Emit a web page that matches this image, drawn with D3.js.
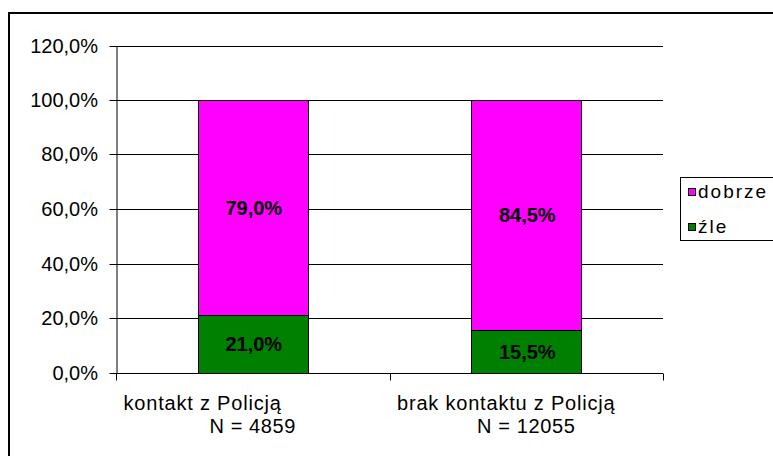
<!DOCTYPE html>
<html>
<head>
<meta charset="utf-8">
<script src="https://cdn.jsdelivr.net/npm/d3@7"></script>
<style>
  html, body { margin: 0; padding: 0; background: #fff; }
  svg { display: block; }
  text { font-family: Arial, "Liberation Sans", sans-serif; fill: #000; }
</style>
</head>
<body>
<svg id="chart" width="773" height="456"></svg>
<script>
// ---- data ----
const categories = ["kontakt z Policją", "brak kontaktu z Policją"];
const sampleLabels = ["N = 4859", "N = 12055"];
const seriesNames = ["dobrze", "źle"];
const dobrze = [0.79, 0.845];
const zle = [0.21, 0.155];
const yTicks = [0, 0.2, 0.4, 0.6, 0.8, 1.0, 1.2];
const colors = { "dobrze": "#FF00FF", "źle": "#008000" };

(function () {
  const svg = d3.select("#chart");
  const plLocale = d3.formatLocale({ decimal: ",", thousands: "\u00a0", grouping: [3], currency: ["", " zł"] });
  const pct = plLocale.format(".1%");

  svg.append("rect").attr("x", 0).attr("y", 0).attr("width", 773).attr("height", 456).attr("fill", "#fff");
  // outer chart border (cropped on right / bottom)
  svg.append("rect").attr("x", 9).attr("y", 13).attr("width", 800).attr("height", 500)
    .attr("fill", "none").attr("stroke", "#000").attr("stroke-width", 2);

  const pLeft = 116, pRight = 663, pTop = 45.5, pBottom = 372.5;
  const y = d3.scaleLinear().domain([0, 1.2]).range([pBottom, pTop]);
  const xEdge = d3.scaleBand().domain(categories).range([pLeft, pRight]);
  const x = d3.scaleBand().domain(categories).range([pLeft, pRight]).paddingInner(0.596).paddingOuter(0.298);

  // gridlines
  svg.append("g").selectAll("line").data(yTicks).join("line")
    .attr("x1", pLeft).attr("x2", pRight)
    .attr("y1", d => Math.round(y(d)) + 0.5).attr("y2", d => Math.round(y(d)) + 0.5)
    .attr("stroke", "#000").attr("stroke-width", 1);

  // y axis
  const yAxis = svg.append("g").attr("transform", `translate(${pLeft + 0.5},0.5)`)
    .call(d3.axisLeft(y).tickValues(yTicks).tickFormat(pct).tickSizeInner(7).tickSizeOuter(0).tickPadding(11.5));
  yAxis.selectAll("path, line").attr("stroke", "#000");
  yAxis.selectAll("text").attr("font-size", "20px").attr("font-family", "Arial, 'Liberation Sans', sans-serif").attr("dy", "0.33em");
  yAxis.selectAll(".tick").attr("transform", d => `translate(0,${Math.round(y(d))})`);

  // x axis ticks at band edges
  const edges = categories.map(c => xEdge(c)).concat([pRight]);
  svg.append("g").selectAll("line").data(edges).join("line")
    .attr("x1", d => Math.round(d) + 0.5).attr("x2", d => Math.round(d) + 0.5)
    .attr("y1", Math.round(pBottom) + 0.5).attr("y2", Math.round(pBottom) + 7.5)
    .attr("stroke", "#000");

  // stacked bars
  const rows = categories.map((c, i) => ({ cat: c, "źle": zle[i], "dobrze": dobrze[i] }));
  const stack = d3.stack().keys(["źle", "dobrze"])(rows);
  const gBars = svg.append("g");
  stack.forEach(layer => {
    gBars.selectAll(null).data(layer).join("rect")
      .attr("x", d => Math.round(x(d.data.cat)) + 0.5)
      .attr("width", Math.round(x.bandwidth()))
      .attr("y", d => Math.round(y(d[1])) + 0.5)
      .attr("height", d => Math.round(y(d[0])) - Math.round(y(d[1])))
      .attr("fill", colors[layer.key])
      .attr("stroke", "#000").attr("stroke-width", 1);
    gBars.selectAll(null).data(layer).join("text")
      .attr("x", d => x(d.data.cat) + x.bandwidth() / 2 + 1)
      .attr("y", d => (y(d[0]) + y(d[1])) / 2)
      .attr("dy", "0.36em")
      .attr("text-anchor", "middle")
      .attr("font-size", "20px").attr("font-weight", "bold")
      .text(d => pct(d[1] - d[0]));
  });

  // category labels
  const gCat = svg.append("g");
  gCat.selectAll(null).data(categories).join("text")
    .attr("x", d => xEdge(d) + 7.5).attr("y", 410)
    .attr("font-size", "20px").attr("letter-spacing", "0.8px")
    .text(d => d);
  gCat.selectAll(null).data(sampleLabels).join("text")
    .attr("x", (d, i) => xEdge(categories[i]) + xEdge.bandwidth() / 2).attr("y", 432.5)
    .attr("text-anchor", "middle")
    .attr("font-size", "20px").attr("letter-spacing", "0.6px")
    .text(d => d);

  // legend
  const gLeg = svg.append("g");
  gLeg.append("rect").attr("x", 680.5).attr("y", 177.5).attr("width", 130).attr("height", 63)
    .attr("fill", "#fff").attr("stroke", "#000").attr("stroke-width", 1);
  const legY = [192, 227];
  seriesNames.forEach((s, i) => {
    gLeg.append("rect").attr("x", 688.5).attr("y", legY[i] - 3.5).attr("width", 7).attr("height", 7)
      .attr("fill", colors[s]).attr("stroke", "#000").attr("stroke-width", 1);
    gLeg.append("text").attr("x", 698).attr("y", legY[i] + 5.5)
      .attr("font-size", "19px").attr("letter-spacing", "2px").text(s);
  });
})();
</script>
</body>
</html>
